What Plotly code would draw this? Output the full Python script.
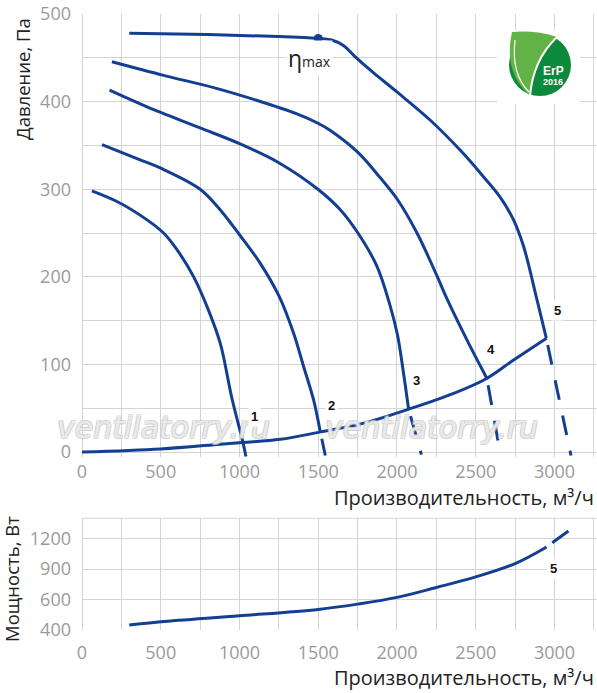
import plotly.graph_objects as go

# ---------------- data ----------------
# pressure curves, solid parts (and dashed tails beyond the system curve)
c1_x = [63, 243, 413, 518, 603, 709, 794, 878, 951, 1022, 1041]
c1_y = [298, 284, 265, 250, 231, 200, 166, 124, 62, 11, -5]

c2_x = [127, 369, 500, 750, 877, 1000, 1131, 1252, 1343, 1407, 1470, 1513]
c2_y = [351, 333.5, 324, 300, 276.6, 248, 215.7, 177.6, 135.8, 97.7, 59.7, 23]
c2_dx = [1513, 1545]
c2_dy = [23, -4]

c3_x = [175, 413, 750, 1000, 1252, 1502, 1640, 1752, 1873, 1958, 2004, 2040, 2074]
c3_y = [413, 394, 370, 352, 330, 299.4, 276.6, 250, 212, 166, 133, 92, 48.7]
c3_dx = [2074, 2155]
c3_dy = [48.7, -3]

c4_x = [190, 518, 836, 1100, 1365, 1502, 1577, 1752, 1894, 2004, 2127, 2254, 2317, 2444, 2571]
c4_y = [445.5, 430, 416, 402, 386, 375, 367, 342, 313, 288, 250, 201, 175, 128, 84]
c4_dx = [2571, 2656]
c4_dy = [84, -2]

c5_x = [300, 800, 1200, 1500, 1590, 1660, 1730, 1850, 2000, 2210, 2420, 2550, 2655, 2740, 2805, 2890, 2948]
c5_y = [478, 476.5, 474.5, 472, 470, 464, 452, 433, 411, 379, 341, 314, 291, 265, 234, 173, 130]
c5_dx = [2948, 3105]
c5_dy = [130, -4]

# system (network) curve
sys_x = [0, 500, 880, 1020, 1260, 1515, 1790, 2075, 2360, 2570, 2740, 2950]
sys_y = [0, 3.5, 9, 11, 14.5, 23, 33, 49, 67, 84, 105, 130]

eta_x = [1500]
eta_y = [472]

curve_labels = ["1", "2", "3", "4", "5"]
curve_label_x = [1096, 1583, 2127, 2597, 3020]
curve_label_y = [41, 53.4, 82, 117, 161]

# power curve
pw_x = [300, 500, 1000, 1500, 1750, 2000, 2250, 2500, 2750, 2950]
pw_y = [349, 381, 440, 503, 555, 621, 719, 823, 954, 1118]
pw_dx = [2950, 3110]
pw_dy = [1118, 1298]
pw_label = "5"
pw_label_x = [2992]
pw_label_y = [905]

x_ticks = [0, 500, 1000, 1500, 2000, 2500, 3000]
p_ticks = [0, 100, 200, 300, 400, 500]
pw_tick_vals = [300, 600, 900, 1200]
pw_tick_text = ["400", "600", "900", "1200"]

x_title = "Производительность, м³/ч"
y1_title = "Давление, Па"
y2_title = "Мощность, Вт"
watermark = "ventilatorry.ru"

# ---------------- styling ----------------
W, H = 597, 693
ML, MR, MT, MB = 82, 0, 14, 63
PW = W - ML - MR
PH = H - MT - MB


def fx(px):
    return (px - ML) / PW


def fy(py):
    return (H - MB - py) / PH


BLUE = "#123f92"
GRID = "#d4d4d4"
TICK = "#9a9a9a"
FONT = "Open Sans"
DASH = "0px,7px,20px,9px"

fig = go.Figure()


def solid(x, y, xa="x", ya="y"):
    fig.add_trace(go.Scatter(x=x, y=y, mode="lines", xaxis=xa, yaxis=ya,
                             line=dict(color=BLUE, width=3, shape="spline", smoothing=1),
                             hoverinfo="skip", showlegend=False))


def dashed(x, y, xa="x", ya="y"):
    fig.add_trace(go.Scatter(x=x, y=y, mode="lines", xaxis=xa, yaxis=ya,
                             line=dict(color=BLUE, width=3, dash=DASH),
                             hoverinfo="skip", showlegend=False))


for x, y in [(c1_x, c1_y), (c2_x, c2_y), (c3_x, c3_y), (c4_x, c4_y), (c5_x, c5_y), (sys_x, sys_y)]:
    solid(x, y)
for x, y in [(c2_dx, c2_dy), (c3_dx, c3_dy), (c4_dx, c4_dy), (c5_dx, c5_dy)]:
    dashed(x, y)

fig.add_trace(go.Scatter(x=eta_x, y=eta_y, mode="markers", marker=dict(color=BLUE, size=9),
                         hoverinfo="skip", showlegend=False))

solid(pw_x, pw_y, "x2", "y2")
dashed(pw_dx, pw_dy, "x2", "y2")


def note(x, y, text, font, xref="paper", yref="paper", **kw):
    d = dict(x=x, y=y, xref=xref, yref=yref, text=text, showarrow=False,
             xanchor="center", yanchor="middle", font=font)
    d.update(kw)
    return d


LBL_FONT = dict(family="Liberation Sans", size=13, color="#111", weight="bold")
XT_FONT = dict(family=FONT, size=20, color="#222")
YT_FONT = dict(family=FONT, size=18.5, color="#222")

annotations = []
# watermark first (drawn below the other texts)
for cx in (163, 431):
    annotations.append(note(fx(cx), fy(427), watermark,
                            dict(family="DejaVu Sans", size=30, style="italic",
                                 color="rgba(255,255,255,0.6)",
                                 shadow="1px 1px 0 #c8c8c8, -1px -1px 0 #c8c8c8, 1px -1px 0 #c8c8c8, -1px 1px 0 #c8c8c8")))

for t, x, y in zip(curve_labels, curve_label_x, curve_label_y):
    annotations.append(note(x, y, t, LBL_FONT, "x", "y", bgcolor="white", borderpad=2))
annotations.append(note(pw_label_x[0], pw_label_y[0], pw_label, LBL_FONT, "x2", "y2",
                        bgcolor="white", borderpad=2))

annotations.append(note(fx(309), fy(58), "<span style='font-size:23px'>η</span>max",
                        dict(family=FONT, size=14, color="#222"), bgcolor="white", borderpad=1))

annotations.append(note(fx(596), fy(497), x_title, XT_FONT, xanchor="right"))
annotations.append(note(fx(596), fy(677), x_title, XT_FONT, xanchor="right"))
annotations.append(note(fx(22), fy(79), y1_title, YT_FONT, textangle=-90))
annotations.append(note(fx(11), fy(579), y2_title, YT_FONT, textangle=-90))

# logo text
annotations.append(note(fx(553), fy(70.5), "ErP",
                        dict(family="Liberation Sans", size=12, color="white", weight="bold")))
annotations.append(note(fx(553), fy(82), "2016",
                        dict(family="Liberation Sans", size=9, color="white", weight="bold")))


def path(cmds):
    out = []
    for c in cmds:
        if isinstance(c, str):
            out.append(c)
        else:
            out.append(f"{fx(c[0]):.5f},{fy(c[1]):.5f}")
    return " ".join(out)


shapes = [
    dict(type="rect", xref="paper", yref="paper", x0=fx(497), x1=fx(580), y0=fy(104), y1=fy(30),
         fillcolor="white", line=dict(width=0)),
    dict(type="line", xref="paper", yref="paper", x0=0, x1=1, y0=fy(518.3), y1=fy(518.3),
         line=dict(color=GRID, width=1), layer="below"),
    dict(type="circle", xref="paper", yref="paper", x0=fx(509), x1=fx(571), y0=fy(96), y1=fy(34),
         fillcolor="#0b8a3b", line=dict(width=0)),
    dict(type="path", xref="paper", yref="paper",
         path=path(["M", (512, 32), "Q", (503, 72), (530, 96), "Q", (533, 60), (557, 37),
                    "Q", (536, 30), (512, 32), "Z"]),
         fillcolor="#62b346", line=dict(width=0)),
    dict(type="path", xref="paper", yref="paper",
         path=path(["M", (557, 37), "Q", (533, 60), (530, 96)]),
         line=dict(color="white", width=2)),
    dict(type="path", xref="paper", yref="paper",
         path=path(["M", (515, 40), "Q", (511, 74), (529, 92)]),
         line=dict(color="white", width=1.2)),
]

axis_common = dict(showgrid=True, gridcolor=GRID, gridwidth=1, zeroline=True, zerolinecolor=GRID,
                   zerolinewidth=1, showline=False, ticks="",
                   tickfont=dict(family=FONT, size=18, color=TICK))
minor_x = dict(dtick=250, showgrid=True, gridcolor=GRID, gridwidth=1)

fig.update_layout(
    width=W, height=H, margin=dict(l=ML, r=MR, t=MT, b=MB),
    paper_bgcolor="white", plot_bgcolor="white", showlegend=False,
    xaxis=dict(axis_common, domain=[0, 1], range=[0, 3270], tickvals=x_ticks, anchor="y",
               minor=minor_x, ticklabelstandoff=2),
    yaxis=dict(axis_common, domain=[fy(457.3), 1], range=[-6, 500], tickvals=p_ticks, anchor="x",
               minor=dict(dtick=50, showgrid=True, gridcolor=GRID, gridwidth=1), ticklabelstandoff=10),
    xaxis2=dict(axis_common, domain=[0, 1], range=[0, 3270], tickvals=x_ticks, anchor="y2",
                minor=minor_x, ticklabelstandoff=10),
    yaxis2=dict(axis_common, domain=[0, fy(518.3)], range=[300, 1400], tickvals=pw_tick_vals,
                ticktext=pw_tick_text, anchor="x2", ticklabelstandoff=10),
    annotations=annotations, shapes=shapes,
)

fig.write_html("out.html", config={"displayModeBar": False},
               post_script="document.body.style.margin='0';document.body.style.overflow='hidden';")
